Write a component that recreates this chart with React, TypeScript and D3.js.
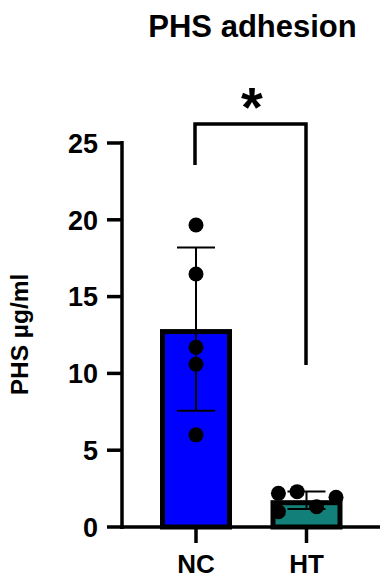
import React from "react";
import * as d3 from "d3";

const categories = ["NC", "HT"];
const ncValues = [19.66, 16.47, 11.7, 10.6, 6.0];
const htValues = [2.19, 2.3, 1.93, 1.32, 0.99];
const htJitter = [-0.39, -0.13, 0.41, 0.14, -0.39];
const yTicks = [0, 5, 10, 15, 20, 25];
const barColors = ["#0000ff", "#127f78"];
const title = "PHS adhesion";
const yLabel = "PHS µg/ml";
const sigLabel = "*";

const W = 381;
const H = 578;
const FONT = "'Liberation Sans', Arial, Helvetica, sans-serif";

export default function App() {
  const series = [ncValues, htValues];
  const jitters = [ncValues.map(() => 0), htJitter];
  const y = d3.scaleLinear().domain([0, 25]).range([527, 143]);
  const x = d3.scalePoint<string>().domain(categories).range([196, 306.5]);
  const barW = 72;
  const bw = 5;
  const axisX = 122;
  const axisY = y(0);

  return (
    <svg
      width={W}
      height={H}
      style={{ position: "absolute", left: 0, top: 0, background: "#fff" }}
      fontFamily={FONT}
    >
      <rect x={0} y={0} width={W} height={H} fill="#fff" />
      <text x={252.5} y={37} textAnchor="middle" fontSize={31} fontWeight="bold">
        {title}
      </text>

      {/* bars */}
      {categories.map((c, i) => {
        const vals = series[i];
        const m = d3.mean(vals) as number;
        const sd = d3.deviation(vals) as number;
        const cx = x(c) as number;
        const top = y(m);
        return (
          <g key={c}>
            <rect
              x={cx - barW / 2 + bw / 2}
              y={top + bw / 2}
              width={barW - bw}
              height={axisY - top - bw / 2}
              fill={barColors[i]}
              stroke="#000"
              strokeWidth={bw}
            />
            <line x1={cx} x2={cx} y1={y(m + sd)} y2={y(m - sd)} stroke="#000" strokeWidth={2} />
            <line x1={cx - 19} x2={cx + 19} y1={y(m + sd)} y2={y(m + sd)} stroke="#000" strokeWidth={2} />
            <line x1={cx - 19} x2={cx + 19} y1={y(m - sd)} y2={y(m - sd)} stroke="#000" strokeWidth={2} />
            {vals.map((v, j) => (
              <circle key={j} cx={cx + jitters[i][j] * barW} cy={y(v)} r={7.5} fill="#000" />
            ))}
          </g>
        );
      })}

      {/* y axis */}
      <line x1={axisX} x2={axisX} y1={y(25) - 2} y2={axisY + 2} stroke="#000" strokeWidth={3.5} />
      {yTicks.map((t) => (
        <g key={t}>
          <line x1={axisX - 15} x2={axisX} y1={y(t)} y2={y(t)} stroke="#000" strokeWidth={3.5} />
          <text
            x={98}
            y={y(t)}
            dy="0.36em"
            textAnchor="end"
            fontSize={27}
            fontWeight="bold"
          >
            {t}
          </text>
        </g>
      ))}

      {/* x axis */}
      <line x1={axisX - 2} x2={380} y1={axisY} y2={axisY} stroke="#000" strokeWidth={3.5} />
      {categories.map((c) => (
        <g key={c}>
          <line x1={x(c)} x2={x(c)} y1={axisY} y2={axisY + 16} stroke="#000" strokeWidth={3.5} />
          <text x={x(c)} y={573} textAnchor="middle" fontSize={26} fontWeight="bold">
            {c}
          </text>
        </g>
      ))}

      {/* y label */}
      <text
        transform={`translate(28,334.5) rotate(-90)`}
        textAnchor="middle"
        fontSize={24.5}
        fontWeight="bold"
      >
        {yLabel}
      </text>

      {/* significance bracket */}
      <path
        d={`M195,165 V124 H306 V365`}
        fill="none"
        stroke="#000"
        strokeWidth={3.5}
      />
      <text x={252} y={126} textAnchor="middle" fontSize={56} fontWeight="bold">
        {sigLabel}
      </text>
    </svg>
  );
}
